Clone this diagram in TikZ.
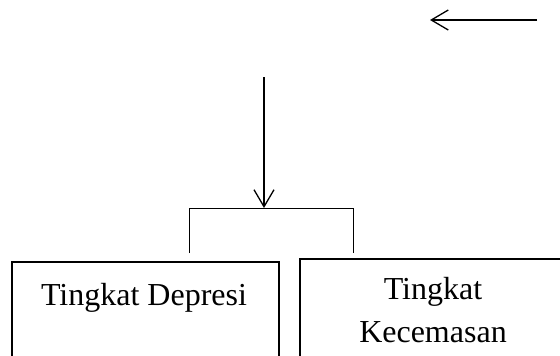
\documentclass[tikz,border=0pt]{standalone}
\usepackage{fontspec}
\setmainfont{Liberation Serif}
\usetikzlibrary{arrows.meta}
\begin{document}
\begin{tikzpicture}[x=1pt,y=-1pt,
  box/.style={draw=black,line width=2pt,rectangle,inner sep=0pt,anchor=north west},
  txt/.style={font=\fontsize{32}{38}\selectfont,inner sep=0pt,anchor=base},
  arr/.style={line width=1.3pt,-{Straight Barb[length=17pt,width=20pt,line width=1.3pt]}},
  brk/.style={line width=1pt}]
\useasboundingbox (0,0) rectangle (560,356);
\begin{scope}
\clip (0,0) rectangle (560,356);
\node[box,minimum width=267pt,minimum height=96pt] (dep) at (11,261) {};
\node[box,minimum width=261pt,minimum height=99pt] (kec) at (299,258) {};
\end{scope}
\node[txt] (tdep) at (144,305) {Tingkat Depresi};
\node[txt] (tkec1) at (433,299) {Tingkat};
\node[txt] (tkec2) at (433,342) {Kecemasan};
% top arrow
\coordinate (a1) at (537,20);
\coordinate (a2) at (430,20);
\draw[arr] (a1) -- (a2);
% vertical arrow and bracket
\coordinate (v1) at (264,77);
\coordinate (v2) at (264,208);
\coordinate (bl) at (189,208);
\coordinate (br) at (353,208);
\coordinate (bld) at (189,253);
\coordinate (brd) at (353,253);
\draw[brk] (bld) -- (bl) -- (br) -- (brd);
\draw[arr] (v1) -- (v2);
\end{tikzpicture}
\end{document}
